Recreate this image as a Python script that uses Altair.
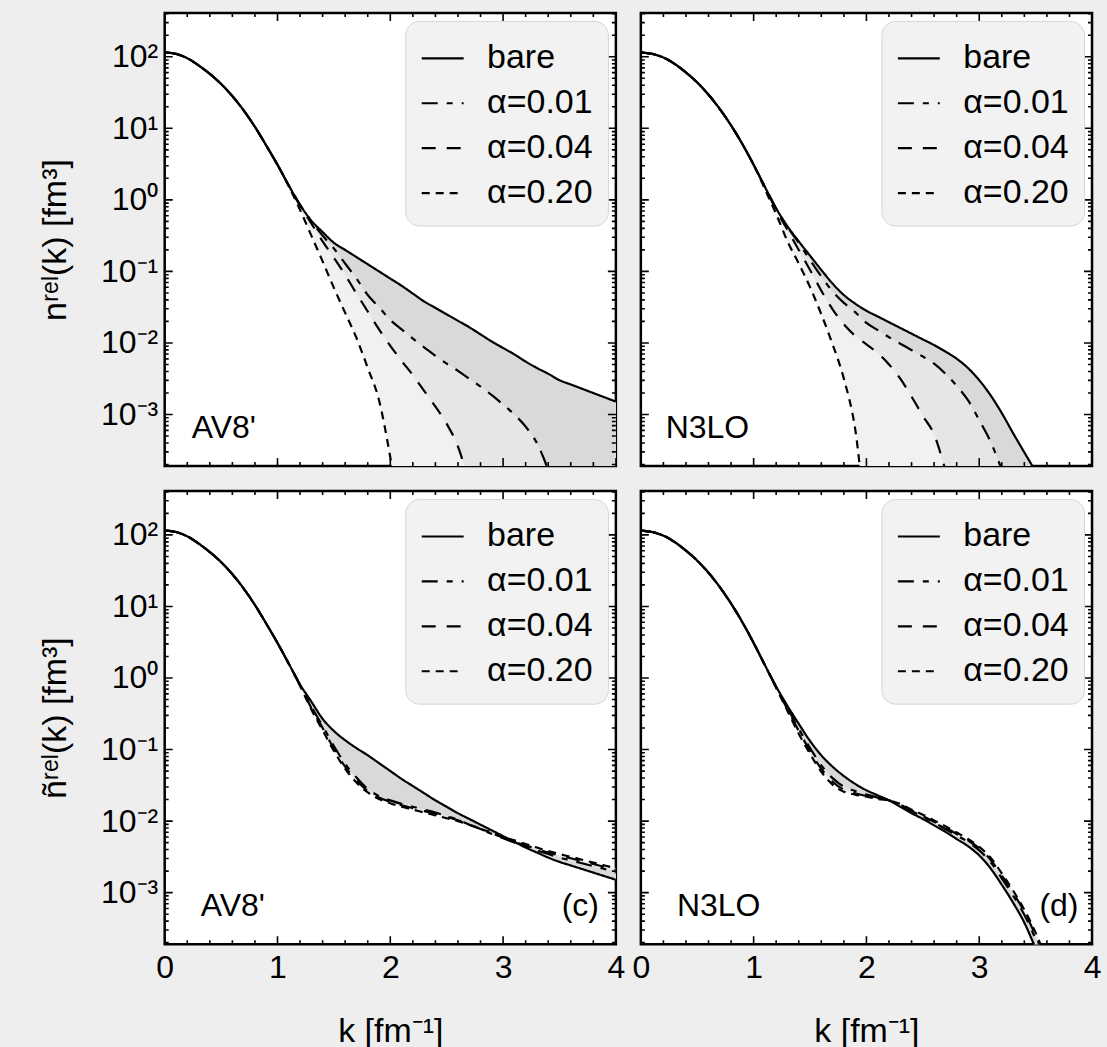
import altair as alt
import pandas as pd

# ---------------- data (log10 of n(k) in fm^3) ----------------
K = [0.0, 0.1, 0.2, 0.3, 0.4, 0.5, 0.6, 0.7, 0.8, 0.9, 1.0, 1.1, 1.2, 1.3, 1.4, 1.5,
     1.6, 1.7, 1.8, 1.9, 2.0, 2.1, 2.2, 2.3, 2.4, 2.5, 2.6, 2.7, 2.8, 2.9, 3.0, 3.1,
     3.2, 3.3, 3.4, 3.5, 3.6, 3.7, 3.8, 3.9, 4.0]

SERIES = ["bare", "α=0.01", "α=0.04", "α=0.20"]
DASHES = [[1, 0], [16, 9, 6, 9], [14, 11], [8, 6]]
BANDS = [("α=0.20", "#f1f1f1"), ("α=0.04", "#e6e6e6"), ("α=0.01", "#d9d9d9")]

# AV8' bare (panel a)
AV8_BARE = [2.06, 2.04, 1.98, 1.88, 1.76, 1.62, 1.45, 1.25, 1.02, 0.76, 0.49, 0.20,
            -0.07, -0.29, -0.45, -0.60, -0.70, -0.80, -0.90, -1.00, -1.10, -1.20,
            -1.31, -1.42, -1.51, -1.60, -1.69, -1.78, -1.88, -1.98, -2.07, -2.16,
            -2.26, -2.35, -2.43, -2.52, -2.58, -2.64, -2.70, -2.76, -2.82]
AV8_A001 = AV8_BARE[:13] + [-0.30, -0.50, -0.68, -0.89, -1.10, -1.33, -1.50, -1.68, -1.81,
                            -1.94, -2.06, -2.18, -2.29, -2.39, -2.50, -2.61, -2.73, -2.86,
                            -3.00, -3.17, -3.40, -3.78, -4.30, -5.0, -5.0, -5.0, -5.0, -5.0]
AV8_A004 = AV8_BARE[:12] + [-0.08, -0.33, -0.58, -0.81, -1.05, -1.31, -1.56, -1.81, -2.04,
                            -2.25, -2.45, -2.67, -2.89, -3.13, -3.45, -3.95, -4.50, -5.0,
                            -5.0, -5.0, -5.0, -5.0, -5.0, -5.0, -5.0, -5.0, -5.0, -5.0, -5.0]
AV8_A020 = AV8_BARE[:11] + [0.19, -0.14, -0.50, -0.86, -1.23, -1.58, -1.93, -2.35, -2.80,
                            -3.60, -4.60, -5.0, -5.0, -5.0, -5.0, -5.0, -5.0, -5.0, -5.0,
                            -5.0, -5.0, -5.0, -5.0, -5.0, -5.0, -5.0, -5.0, -5.0, -5.0, -5.0]

# N3LO bare (panel b)
N3LO_BARE = [2.06, 2.04, 1.99, 1.90, 1.78, 1.64, 1.47, 1.27, 1.04, 0.78, 0.49, 0.18,
             -0.12, -0.37, -0.58, -0.78, -0.98, -1.17, -1.33, -1.45, -1.55, -1.63,
             -1.71, -1.79, -1.87, -1.95, -2.03, -2.12, -2.22, -2.35, -2.52, -2.73,
             -2.98, -3.26, -3.53, -3.80, -4.10, -4.45, -4.80, -5.0, -5.0]
N3LO_A001 = N3LO_BARE[:13] + [-0.38, -0.60, -0.84, -1.07, -1.28, -1.44, -1.57, -1.72, -1.82,
                              -1.92, -2.01, -2.10, -2.19, -2.29, -2.43, -2.60, -2.80, -3.08,
                              -3.38, -3.78, -4.30, -5.0, -5.0, -5.0, -5.0, -5.0, -5.0, -5.0]
N3LO_A004 = N3LO_BARE[:12] + [-0.14, -0.42, -0.70, -0.98, -1.27, -1.53, -1.74, -1.90, -2.02,
                              -2.14, -2.30, -2.50, -2.75, -3.02, -3.28, -3.78, -4.40, -5.0,
                              -5.0, -5.0, -5.0, -5.0, -5.0, -5.0, -5.0, -5.0, -5.0, -5.0, -5.0]
N3LO_A020 = N3LO_BARE[:11] + [0.15, -0.20, -0.58, -0.89, -1.22, -1.60, -2.02, -2.50, -3.20,
                              -4.50, -5.0, -5.0, -5.0, -5.0, -5.0, -5.0, -5.0, -5.0, -5.0,
                              -5.0, -5.0, -5.0, -5.0, -5.0, -5.0, -5.0, -5.0, -5.0, -5.0, -5.0]

# AV8' with evolved operators (panel c)
AV8T_BARE = AV8_BARE[:12] + [-0.09, -0.33, -0.57, -0.74, -0.87, -0.98, -1.08, -1.19, -1.30,
                             -1.41, -1.51, -1.61, -1.71, -1.80, -1.89, -1.97, -2.05, -2.13,
                             -2.21, -2.29, -2.37, -2.44, -2.51, -2.57, -2.62, -2.67, -2.72,
                             -2.77, -2.82]
AV8T_A001 = AV8_BARE[:12] + [-0.10, -0.40, -0.67, -0.95, -1.20, -1.39, -1.55, -1.65, -1.71,
                             -1.76, -1.80, -1.84, -1.88, -1.93, -1.98, -2.05, -2.11, -2.18,
                             -2.24, -2.30, -2.36, -2.41, -2.46, -2.51, -2.55, -2.59, -2.63,
                             -2.67, -2.72]
AV8T_A004 = AV8_BARE[:12] + [-0.10, -0.42, -0.70, -0.99, -1.24, -1.43, -1.58, -1.67, -1.73,
                             -1.78, -1.82, -1.86, -1.90, -1.94, -1.99, -2.05, -2.11, -2.17,
                             -2.23, -2.29, -2.34, -2.39, -2.44, -2.48, -2.52, -2.56, -2.60,
                             -2.64, -2.68]
AV8T_A020 = AV8_BARE[:12] + [-0.11, -0.44, -0.73, -1.02, -1.27, -1.46, -1.60, -1.69, -1.75,
                             -1.80, -1.84, -1.88, -1.92, -1.96, -2.00, -2.05, -2.11, -2.16,
                             -2.22, -2.27, -2.32, -2.37, -2.42, -2.46, -2.50, -2.54, -2.58,
                             -2.62, -2.66]

# N3LO with evolved operators (panel d)
N3LOT_BARE = N3LO_BARE[:12] + [-0.12, -0.39, -0.64, -0.88, -1.08, -1.24, -1.37, -1.48, -1.57,
                               -1.64, -1.71, -1.80, -1.89, -1.97, -2.06, -2.15, -2.25, -2.35,
                               -2.48, -2.66, -2.89, -3.14, -3.42, -3.78, -4.15, -4.55, -5.0,
                               -5.0, -5.0]
N3LOT_A001 = N3LO_BARE[:12] + [-0.13, -0.42, -0.71, -0.98, -1.22, -1.40, -1.52, -1.58, -1.63,
                               -1.67, -1.71, -1.78, -1.86, -1.94, -2.02, -2.11, -2.20, -2.29,
                               -2.41, -2.57, -2.80, -3.04, -3.31, -3.65, -4.05, -4.45, -4.90,
                               -5.0, -5.0]
N3LOT_A004 = N3LO_BARE[:12] + [-0.13, -0.44, -0.74, -1.02, -1.27, -1.45, -1.56, -1.61, -1.65,
                               -1.68, -1.71, -1.77, -1.85, -1.93, -2.01, -2.09, -2.18, -2.27,
                               -2.38, -2.54, -2.76, -3.00, -3.27, -3.60, -4.00, -4.40, -4.85,
                               -5.0, -5.0]
N3LOT_A020 = N3LO_BARE[:12] + [-0.14, -0.46, -0.78, -1.06, -1.31, -1.49, -1.59, -1.63, -1.66,
                               -1.69, -1.71, -1.76, -1.84, -1.91, -1.99, -2.07, -2.16, -2.25,
                               -2.36, -2.51, -2.73, -2.97, -3.24, -3.56, -3.95, -4.35, -4.80,
                               -5.0, -5.0]

Y_LO, Y_HI = 1.9e-4, 410.0
Y_MAJOR = [1e-3, 1e-2, 1e-1, 1.0, 10.0, 100.0]
Y_MINOR = [m * 10.0 ** e for e in range(-4, 3) for m in range(2, 10)
           if Y_LO <= m * 10.0 ** e <= Y_HI]
X_MAJOR = [0, 1, 2, 3, 4]
X_MINOR = [0.2, 0.4, 0.6, 0.8, 1.2, 1.4, 1.6, 1.8, 2.2, 2.4, 2.6, 2.8, 3.2, 3.4, 3.6, 3.8]

FONT = "Liberation Sans"
W, H = 452, 454

LABEL_EXPR = ("datum.value >= 99 ? '10²' : datum.value >= 9 ? '10¹' : "
              "datum.value >= 0.9 ? '10⁰' : datum.value >= 0.09 ? '10⁻¹' : "
              "datum.value >= 0.009 ? '10⁻²' : '10⁻³'")


def panel(curves, name, name_k, tag, tag_k, bottom, left, y_title):
    xs = alt.Scale(domain=[0, 4], nice=False, zero=False)
    ys = alt.Scale(type="log", domain=[Y_LO, Y_HI], nice=False)

    if bottom:
        xaxis = alt.Axis(values=X_MAJOR, format="d", ticks=False, domain=False, grid=False,
                         labelFont=FONT, labelFontSize=32, labelColor="black",
                         labelPadding=8, labelFlush=False,
                         title="k [fm⁻¹]", titleFont=FONT, titleFontSize=34,
                         titleFontWeight="normal", titleColor="black", titlePadding=31)
    else:
        xaxis = None
    if left:
        yaxis = alt.Axis(values=Y_MAJOR, labelExpr=LABEL_EXPR, ticks=False, domain=False,
                         grid=False, labelFont=FONT, labelFontSize=32, labelColor="black",
                         labelPadding=7, labelFlush=False,
                         title=y_title, titleFont=FONT, titleFontSize=34,
                         titleFontWeight="normal", titleColor="black", titlePadding=28)
    else:
        yaxis = None

    X = lambda f: alt.X(f, scale=xs, axis=xaxis)
    Y = lambda f: alt.Y(f, scale=ys, axis=yaxis)

    line_rows = []
    for s in SERIES:
        for k, v in zip(K, curves[s]):
            line_rows.append({"k": k, "n": 10.0 ** v, "series": s})
    lines_df = pd.DataFrame(line_rows)

    layers = []
    for s, col in BANDS:
        band_df = pd.DataFrame({
            "k": K,
            "lo": [10.0 ** v for v in curves[s]],
            "hi": [10.0 ** v for v in curves["bare"]],
        })
        layers.append(
            alt.Chart(band_df).mark_area(color=col, opacity=1, clip=True,
                                         interpolate="monotone").encode(
                x=X("k:Q"), y=Y("lo:Q"), y2="hi:Q",
            )
        )

    legend = alt.Legend(title=None, orient="top-right", offset=8, padding=15,
                        fillColor="#f2f2f2", strokeColor="#d4d4d4", cornerRadius=14,
                        labelFont=FONT, labelFontSize=34, labelColor="black",
                        labelExpr="datum.label + '\u00a0'",
                        symbolType="stroke", symbolSize=1764, symbolStrokeWidth=2.2,
                        symbolStrokeColor="black", labelOffset=22, rowPadding=5,
                        labelLimit=400)

    layers.append(
        alt.Chart(lines_df).mark_line(color="black", strokeWidth=2.2, clip=True,
                                      interpolate="monotone").encode(
            x=X("k:Q"), y=Y("n:Q"),
            strokeDash=alt.StrokeDash("series:N",
                                      scale=alt.Scale(domain=SERIES, range=DASHES),
                                      sort=SERIES, legend=legend),
        )
    )

    # inward tick marks on all four sides
    ymaj = pd.DataFrame({"v": Y_MAJOR})
    ymin = pd.DataFrame({"v": Y_MINOR})
    xmaj = pd.DataFrame({"v": X_MAJOR})
    xmin = pd.DataFrame({"v": X_MINOR})
    for df_t, length in [(ymaj, 16), (ymin, 8)]:
        for side in [0, "width"]:
            layers.append(
                alt.Chart(df_t).mark_tick(orient="horizontal", size=length, thickness=1.6,
                                          color="black", clip=True, opacity=1).encode(
                    y=Y("v:Q"), x=alt.value(side),
                )
            )
    for df_t, length in [(xmaj, 16), (xmin, 8)]:
        for side in [0, "height"]:
            layers.append(
                alt.Chart(df_t).mark_tick(orient="vertical", size=length, thickness=1.6,
                                          color="black", clip=True, opacity=1).encode(
                    x=X("v:Q"), y=alt.value(side),
                )
            )

    name_df = pd.DataFrame({"k": [name_k], "n": [6.5e-4], "label": [name]})
    layers.append(
        alt.Chart(name_df).mark_text(align="left", baseline="middle", font=FONT,
                                     fontSize=32, color="black").encode(
            x=X("k:Q"), y=Y("n:Q"), text="label:N",
        )
    )
    if tag:
        tag_df = pd.DataFrame({"k": [tag_k], "n": [6.5e-4], "label": [tag]})
        layers.append(
            alt.Chart(tag_df).mark_text(align="right", baseline="middle", font=FONT,
                                        fontSize=32, color="black").encode(
                x=X("k:Q"), y=Y("n:Q"), text="label:N",
            )
        )
    return alt.layer(*layers).properties(width=W, height=H)


def curves(b, a1, a4, a20):
    return {"bare": b, "α=0.01": a1, "α=0.04": a4, "α=0.20": a20}


pa = panel(curves(AV8_BARE, AV8_A001, AV8_A004, AV8_A020), "AV8'", 0.24, "", 0,
           False, True, "nʳᵉˡ(k) [fm³]")
pb = panel(curves(N3LO_BARE, N3LO_A001, N3LO_A004, N3LO_A020), "N3LO", 0.22, "", 0,
           False, False, "")
pc = panel(curves(AV8T_BARE, AV8T_A001, AV8T_A004, AV8T_A020), "AV8'", 0.32, "(c)", 3.85,
           True, True, "ñʳᵉˡ(k) [fm³]")
pd_ = panel(curves(N3LOT_BARE, N3LOT_A001, N3LOT_A004, N3LOT_A020), "N3LO", 0.32, "(d)", 3.88,
            True, False, "")

top = alt.hconcat(pa, pb, spacing=21).resolve_scale(
    strokeDash="independent").resolve_legend(strokeDash="independent")
bot = alt.hconcat(pc, pd_, spacing=3).resolve_scale(
    strokeDash="independent").resolve_legend(strokeDash="independent")

chart = alt.vconcat(top, bot, spacing=21).resolve_scale(
    strokeDash="independent").resolve_legend(strokeDash="independent").properties(
    background="#eeeeee",
    padding={"left": 37, "top": 10, "right": 4, "bottom": 1},
).configure_view(stroke="black", strokeWidth=2.5, fill="white")

chart.save("out.html", embed_options={"renderer": "svg", "actions": False})
